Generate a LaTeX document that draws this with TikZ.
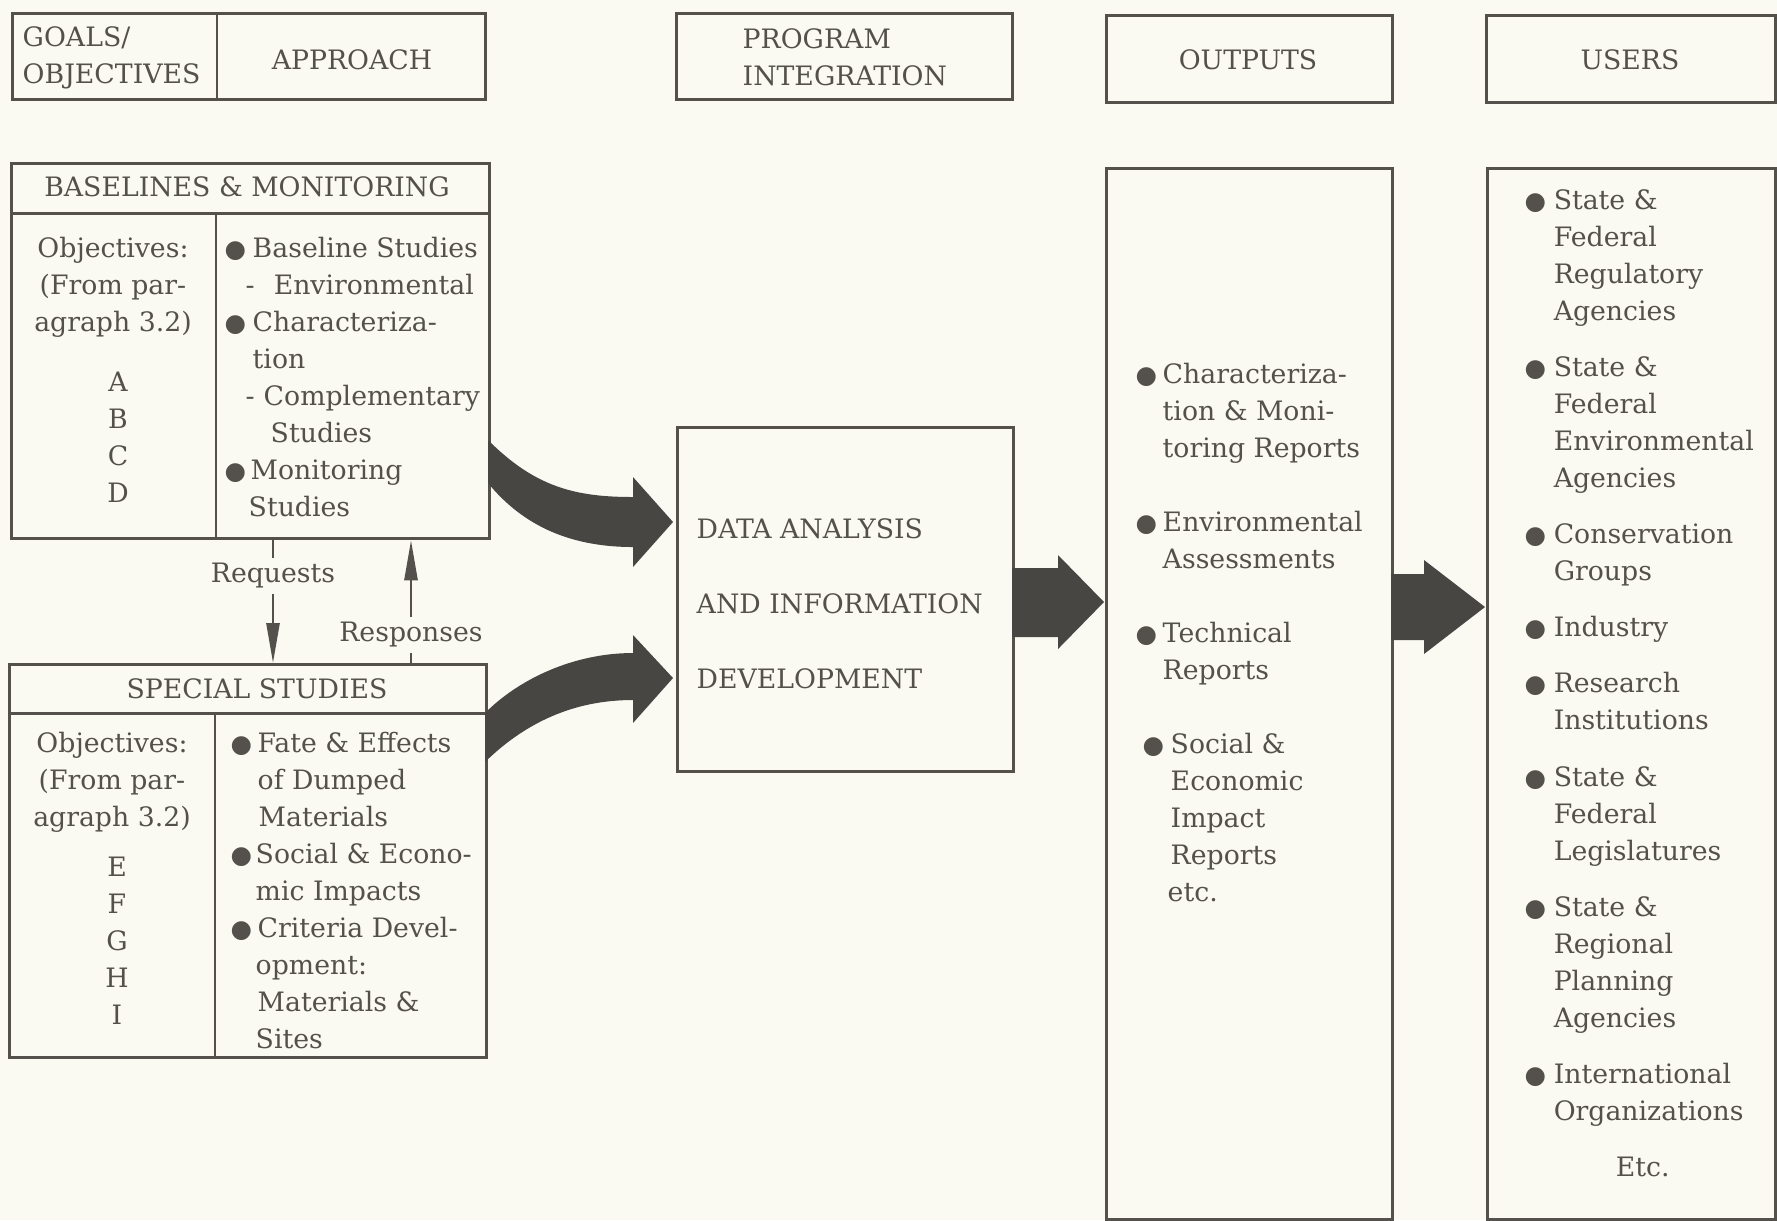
\documentclass[tikz,border=0pt]{standalone}
\usepackage{fontspec}
\setmainfont{DejaVu Serif}
\newfontfamily\symfont{DejaVu Sans}
\usetikzlibrary{arrows.meta}

\definecolor{paper}{RGB}{250,249,242}
\definecolor{ink}{RGB}{84,81,76}
\definecolor{arrowc}{RGB}{72,70,66}
\newcommand{\txt}{\fontsize{7.6}{10.53}\selectfont}
\newcommand{\bul}[1]{\makebox[#1][l]{\symfont\fontsize{7}{7}\selectfont ●}}

\begin{document}
\begin{tikzpicture}
    [x=0.01cm,y=-0.01cm,
     every node/.style={font=\txt,text=ink,inner sep=0pt},
     box/.style={draw=ink,line width=0.85pt,anchor=north west},
     rule/.style={draw=ink,line width=0.85pt},
     fat/.style={fill=arrowc},
     link/.style={draw=ink,line width=0.75pt,-{Triangle[length=0.4cm,width=0.13cm]}},
     lab/.style={fill=paper,inner sep=1.5pt}]

    \useasboundingbox (0,0) rectangle (1777,1220);
    \fill[paper] (0,0) rectangle (1777,1220);

    % column headers
    \node[box,minimum width=4.73cm,minimum height=0.86cm] (goal) at (11,12) {};
    \node[box,minimum width=3.36cm,minimum height=0.86cm] (prog) at (675,12) {};
    \node[box,minimum width=2.86cm,minimum height=0.87cm] (outh) at (1105,14) {};
    \node[box,minimum width=2.89cm,minimum height=0.87cm] (userh) at (1485,14) {};
    \coordinate (gd) at (217,0);
    \draw[rule] (goal.north -| gd) -- (goal.south -| gd);

    \node[align=left,anchor=north west] (goaltxt) at (22,26) {GOALS/\\OBJECTIVES};
    \node (apptxt) at (352,60) {APPROACH};
    \node[align=left,anchor=north west] (progtxt) at (742,28) {PROGRAM\\INTEGRATION};
    \node (outtxt) at (1248,60) {OUTPUTS};
    \node (usertxt) at (1630,60) {USERS};

    % baselines and monitoring
    \node[box,minimum width=4.78cm,minimum height=3.75cm] (bm) at (10,162) {};
    \coordinate (bmh) at (216,213);
    \draw[rule] (bm.west |- bmh) -- (bm.east |- bmh);
    \draw[rule] (bmh) -- (bm.south -| bmh);
    \node (bmtxt) at (247,187) {BASELINES \& MONITORING};
    \node[align=center,anchor=north] (bmobj) at (113,236) {%
      Objectives:\\(From par-\\agraph 3.2)\\[0.23cm]
      \hspace*{0.1cm}A\\\hspace*{0.1cm}B\\\hspace*{0.1cm}C\\\hspace*{0.1cm}D};
    \node[align=left,anchor=north west] (bmlist) at (224,236) {%
      \bul{0.28cm}Baseline Studies\\
      \hspace*{0.21cm}-\hspace*{0.19cm}Environmental\\
      \bul{0.28cm}Characteriza-\\
      \hspace*{0.28cm}tion\\
      \hspace*{0.21cm}-\hspace*{0.09cm}Complementary\\
      \hspace*{0.46cm}Studies\\
      \bul{0.26cm}Monitoring\\
      \hspace*{0.24cm}Studies};

    % special studies
    \node[box,minimum width=4.77cm,minimum height=3.93cm] (ss) at (8,663) {};
    \coordinate (ssh) at (215,713);
    \draw[rule] (ss.west |- ssh) -- (ss.east |- ssh);
    \draw[rule] (ssh) -- (ss.south -| ssh);
    \node (sstxt) at (257,689) {SPECIAL STUDIES};
    \node[align=center,anchor=north] (ssobj) at (112,731) {%
      Objectives:\\(From par-\\agraph 3.2)\\[0.13cm]
      \hspace*{0.1cm}E\\\hspace*{0.1cm}F\\\hspace*{0.1cm}G\\\hspace*{0.1cm}H\\\hspace*{0.1cm}I};
    \node[align=left,anchor=north west] (sslist) at (230,731) {%
      \bul{0.27cm}Fate \& Effects\\
      \hspace*{0.27cm}of Dumped\\
      \hspace*{0.28cm}Materials\\
      \bul{0.25cm}Social \& Econo-\\
      \hspace*{0.25cm}mic Impacts\\
      \bul{0.27cm}Criteria Devel-\\
      \hspace*{0.25cm}opment:\\
      \hspace*{0.27cm}Materials \&\\
      \hspace*{0.25cm}Sites};

    % requests and responses
    \coordinate (rq) at (273,0);
    \coordinate (rs) at (411,0);
    \draw[link] (bm.south -| rq) -- (ss.north -| rq) node[pos=0.29,lab] (reqlab) {Requests};
    \draw[link] (ss.north -| rs) -- (bm.south -| rs) node[pos=0.23,lab] (reslab) {Responses};

    % data analysis
    \node[box,minimum width=3.36cm,minimum height=3.44cm] (da) at (676,426) {};
    \node[align=left,anchor=north west] (datxt) at (696,518) {%
      DATA ANALYSIS\\[0.38cm]AND INFORMATION\\[0.38cm]DEVELOPMENT};

    % curved arrows into data analysis
    \fill[fat] (488,440) .. controls (535,487) and (575,497) .. (633,497)
      -- (633,477) -- (673,522) -- (633,567) -- (633,547)
      .. controls (565,547) and (520,522) .. (488,483) -- cycle;
    \fill[fat] (485,713) .. controls (520,678) and (575,653) .. (633,653)
      -- (633,635) -- (673,678) -- (633,723) -- (633,700)
      .. controls (580,700) and (530,718) .. (485,762) -- cycle;

    % outputs
    \node[box,minimum width=2.86cm,minimum height=10.5cm] (outb) at (1105,167) {};
    \node[align=left,anchor=north west] (outlist) at (1135,362) {%
      \bul{0.27cm}Characteriza-\\
      \hspace*{0.27cm}tion \& Moni-\\
      \hspace*{0.27cm}toring Reports\\[0.37cm]
      \bul{0.27cm}Environmental\\
      \hspace*{0.27cm}Assessments\\[0.37cm]
      \bul{0.27cm}Technical\\
      \hspace*{0.27cm}Reports\\[0.37cm]
      \hspace*{0.07cm}\bul{0.28cm}Social \&\\
      \hspace*{0.35cm}Economic\\
      \hspace*{0.35cm}Impact\\
      \hspace*{0.35cm}Reports\\
      \hspace*{0.32cm}etc.};

    \fill[fat] (1012,568) -- (1058,568) -- (1058,555) -- (1104,602)
      -- (1058,649) -- (1058,637) -- (1012,637) -- cycle;
    \fill[fat] (1391,574) -- (1424,574) -- (1424,560) -- (1485,607)
      -- (1424,654) -- (1424,640) -- (1391,640) -- cycle;

    % users
    \node[box,minimum width=2.88cm,minimum height=10.5cm] (userb) at (1486,167) {};
    \node[align=left,anchor=north west] (userlist) at (1524,189) {%
      \bul{0.29cm}State \&\\
      \hspace*{0.29cm}Federal\\
      \hspace*{0.29cm}Regulatory\\
      \hspace*{0.29cm}Agencies\\[0.19cm]
      \bul{0.29cm}State \&\\
      \hspace*{0.29cm}Federal\\
      \hspace*{0.29cm}Environmental\\
      \hspace*{0.29cm}Agencies\\[0.19cm]
      \bul{0.29cm}Conservation\\
      \hspace*{0.29cm}Groups\\[0.19cm]
      \bul{0.29cm}Industry\\[0.19cm]
      \bul{0.29cm}Research\\
      \hspace*{0.29cm}Institutions\\[0.19cm]
      \bul{0.29cm}State \&\\
      \hspace*{0.29cm}Federal\\
      \hspace*{0.29cm}Legislatures\\[0.19cm]
      \bul{0.29cm}State \&\\
      \hspace*{0.29cm}Regional\\
      \hspace*{0.29cm}Planning\\
      \hspace*{0.29cm}Agencies\\[0.19cm]
      \bul{0.29cm}International\\
      \hspace*{0.29cm}Organizations\\[0.19cm]
      \hspace*{0.91cm}Etc.};
\end{tikzpicture}
\end{document}
